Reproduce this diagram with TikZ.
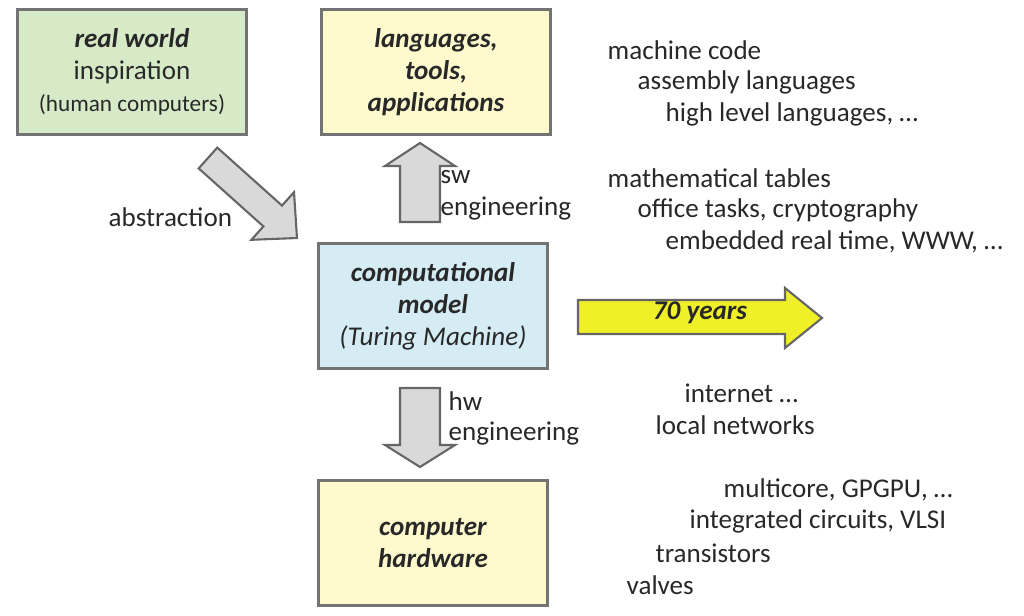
\documentclass[tikz,border=0pt]{standalone}
\usepackage{fontspec}
\setmainfont{Carlito}
\definecolor{gbox}{RGB}{214,234,200}
\definecolor{ybox}{RGB}{255,250,205}
\definecolor{bbox}{RGB}{213,236,244}
\definecolor{garr}{RGB}{217,217,217}
\definecolor{yarr}{RGB}{240,240,40}
\definecolor{txt}{RGB}{40,40,40}
\begin{document}
\begin{tikzpicture}[x=0.01cm,y=-0.01cm,
  box/.style={draw=black!55,line width=0.8pt,minimum width=229*0.01cm,minimum height=125*0.01cm,align=center,text=txt,font=\fontsize{7.7}{9.1}\selectfont},
  blk/.style={draw=black!60,line width=0.6pt,fill=garr},
  lbl/.style={anchor=west,text=txt,font=\fontsize{7.7}{9.1}\selectfont,inner sep=0pt}]
\useasboundingbox (0,0) rectangle (1024,615);
\node[box,fill=gbox] (rw) at (132,72) {\textbf{\textit{real world}}\\inspiration\\{\fontsize{6.6}{9.1}\selectfont(human computers)}};
\node[box,fill=ybox] (lang) at (436,72) {\textbf{\textit{languages,}}\\\textbf{\textit{tools,}}\\\textbf{\textit{applications}}};
\node[box,fill=bbox] (cm) at (433,306) {\textbf{\textit{computational}}\\\textbf{\textit{model}}\\\textit{(Turing Machine)}};
\node[box,fill=ybox] (hw) at (433,543) {\textbf{\textit{computer}}\\\textbf{\textit{hardware}}};
% arrows
\draw[blk] (198.7,168.4) -- (217.3,147.6) -- (282,205.6) -- (294,192.2) -- (297,238) -- (251.4,239.8) -- (263.4,226.4) -- cycle;
\draw[blk] (400,222) -- (400,166) -- (385,166) -- (420,143) -- (455,166) -- (440,166) -- (440,222) -- cycle;
\draw[blk] (400,388) -- (400,445) -- (385,445) -- (420,467) -- (455,445) -- (440,445) -- (440,388) -- cycle;
\draw[draw=black!60,line width=0.6pt,fill=yarr] (578,300) -- (785,300) -- (785,288) -- (822,318) -- (785,348) -- (785,334) -- (578,334) -- cycle;
\node[text=txt,font=\fontsize{7.7}{9.1}\selectfont\bfseries\itshape] (yrs) at (700,313) {70 years};
% labels
\node[lbl] (abs) at (108,217) {abstraction};
\node[lbl] (sw1) at (440,177) {sw};
\node[lbl] (sw2) at (440,209) {engineering};
\node[lbl] (hw1) at (448,401) {hw};
\node[lbl] (hw2) at (448,434) {engineering};
\node[lbl] (t1) at (607,50) {machine code};
\node[lbl] (t2) at (637,82) {assembly languages};
\node[lbl] (t3) at (665,114) {high level languages, …};
\node[lbl] (t4) at (607,178) {mathematical tables};
\node[lbl] (t5) at (637,210) {office tasks, cryptography};
\node[lbl] (t6) at (665,242) {embedded real time, WWW, …};
\node[lbl] (t7) at (684,393) {internet …};
\node[lbl] (t8) at (655,425) {local networks};
\node[lbl] (t9) at (723,490) {multicore, GPGPU, …};
\node[lbl] (t10) at (689,521) {integrated circuits, VLSI};
\node[lbl] (t11) at (655,553) {transistors};
\node[lbl] (t12) at (626,585) {valves};
\end{tikzpicture}
\end{document}
